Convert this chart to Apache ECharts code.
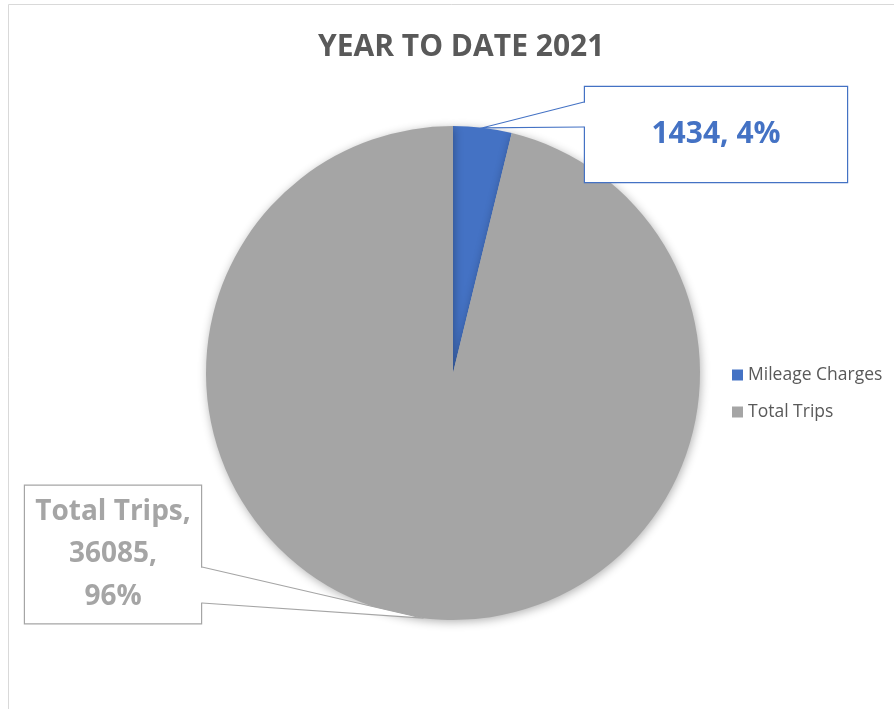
<!DOCTYPE html>
<html>
<head>
<meta charset="utf-8">
<script src="https://cdn.jsdelivr.net/npm/echarts@6/dist/echarts.min.js"></script>
<style>
  html, body { margin: 0; padding: 0; background: #ffffff; }
  #chart { width: 894px; height: 709px; }
</style>
</head>
<body>
<div id="chart"></div>
<script>
// Year-to-date trip counts
const categories = ['Mileage Charges', 'Total Trips'];
const values = [1434, 36085];
const percentLabels = ['4%', '96%'];
const colors = ['#4472C4', '#A5A5A5'];
const titleText = 'YEAR TO DATE 2021';

const FONT = '"Open Sans", Lato, sans-serif';

// Callout boxes: [left, top, width, height]
const boxes = [
  [584, 86, 264, 97],
  [24, 485, 178, 139]
];
// Where each callout's pointer meets its box edge
const pointerEdges = [
  { x: 584, y1: 102, y2: 127, side: 'left' },
  { x: 202, y1: 567, y2: 603, side: 'right' }
];

const chart = echarts.init(document.getElementById('chart'), null, { renderer: 'canvas' });

const pieData = categories.map((name, i) => ({
  name,
  value: values[i],
  itemStyle: { color: colors[i] },
  label: i === 0 ? {
    formatter: values[i] + ', ' + percentLabels[i],
    color: colors[i],
    fontSize: 30,
    lineHeight: 36,
    width: 262,
    padding: [30, 0, 29, 0],
    borderColor: colors[i],
    borderWidth: 1.2,
    backgroundColor: '#ffffff'
  } : {
    formatter: name + ',\n' + values[i] + ',\n' + percentLabels[i],
    color: colors[i],
    fontSize: 28,
    lineHeight: 42.5,
    width: 176,
    padding: [8, 0, 2, 0],
    borderColor: colors[i],
    borderWidth: 1.2,
    backgroundColor: '#ffffff'
  }
}));

const frame = {
  type: 'rect',
  shape: { x: 8.5, y: 4.5, width: 900, height: 720 },
  style: { fill: 'none', stroke: '#d9d9d9', lineWidth: 1 },
  silent: true,
  z: -10
};

chart.setOption({
  backgroundColor: '#ffffff',
  animation: false,
  title: {
    text: titleText,
    left: 313,
    top: 27,
    textStyle: { fontFamily: FONT, fontSize: 30, fontWeight: 'bold', color: '#595959' }
  },
  legend: {
    orient: 'vertical',
    left: 732,
    top: 366,
    padding: 0,
    itemWidth: 11,
    itemHeight: 11,
    itemGap: 19,
    icon: 'rect',
    data: categories,
    textStyle: { fontFamily: FONT, fontSize: 17.5, color: '#595959' }
  },
  graphic: [frame],
  series: [{
    type: 'pie',
    center: [453, 373],
    radius: 247,
    startAngle: 90,
    clockwise: true,
    data: pieData,
    itemStyle: {
      shadowBlur: 10,
      shadowColor: 'rgba(0,0,0,0.3)',
      shadowOffsetX: 1,
      shadowOffsetY: 2
    },
    emphasis: { disabled: true },
    label: {
      show: true,
      position: 'outside',
      fontFamily: FONT,
      fontWeight: 'bold',
      align: 'center'
    },
    labelLine: { show: false },
    labelLayout: function (params) {
      const b = boxes[params.dataIndex];
      return {
        x: b[0] + b[2] / 2,
        y: b[1] + b[3] / 2,
        align: 'center',
        verticalAlign: 'middle'
      };
    }
  }]
});

// Wedge-shaped pointers from each box to the middle of its slice's rim
function drawPointers() {
  const data = chart.getModel().getSeriesByIndex(0).getData();
  const elements = [];
  categories.forEach((name, i) => {
    const lay = data.getItemLayout(i);
    const mid = (lay.startAngle + lay.endAngle) / 2;
    const tip = [lay.cx + lay.r * Math.cos(mid), lay.cy + lay.r * Math.sin(mid)];
    const e = pointerEdges[i];
    const inset = e.side === 'left' ? 1.5 : -1.5;
    elements.push({
      type: 'polygon',
      shape: { points: [tip, [e.x + inset, e.y1 + 0.6], [e.x + inset, e.y2 - 0.6]] },
      style: { fill: '#ffffff', stroke: null },
      silent: true,
      z: 100
    });
    elements.push({
      type: 'polyline',
      shape: { points: [[e.x, e.y1], tip, [e.x, e.y2]] },
      style: { fill: null, stroke: colors[i], lineWidth: 1.2 },
      silent: true,
      z: 101
    });
  });
  chart.setOption({ graphic: [frame].concat(elements) }, { replaceMerge: ['graphic'] });
}
drawPointers();
</script>
</body>
</html>
